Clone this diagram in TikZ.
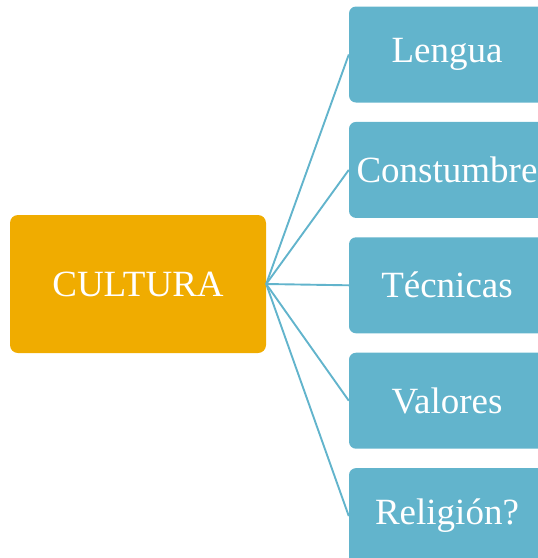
\documentclass[tikz,border=0pt]{standalone}
\usepackage{fontspec}
\setmainfont{Liberation Serif}
\definecolor{CultOrange}{RGB}{240,172,0}
\definecolor{CultBlue}  {RGB}{98,180,204}
\usetikzlibrary{positioning}

\begin{document}
\begin{tikzpicture}[x=1pt,y=1pt,
    mainbox/.style={fill=CultOrange,rounded corners=8pt,inner sep=0pt,
       minimum width=256pt,minimum height=138pt,text=white,
       font=\fontsize{37}{40}\selectfont},
    itembox/.style={fill=CultBlue,rounded corners=7pt,inner sep=0pt,
       minimum width=196pt,minimum height=96pt,text=white,
       font=\fontsize{37}{40}\selectfont},
    link/.style={CultBlue,line width=1.9pt}]
  \clip (0,0) rectangle (538,-558);
  %% central node
  \node[mainbox] (cultura) at (138,-284) {CULTURA};
  %% items
  \node[itembox] (lengua) at (447,-54.5) {Lengua};
  \node[itembox,below=19pt of lengua] (costumbre) {Constumbre};
  \node[itembox,below=19pt of costumbre] (tecnicas) {Técnicas};
  \node[itembox,below=19pt of tecnicas] (valores) {Valores};
  \node[itembox,below=19pt of valores] (religion) {Religión?};
  %% links
  \foreach \n in {lengua,costumbre,tecnicas,valores,religion}
    \draw[link] (cultura.east) -- (\n.west);
\end{tikzpicture}
\end{document}
